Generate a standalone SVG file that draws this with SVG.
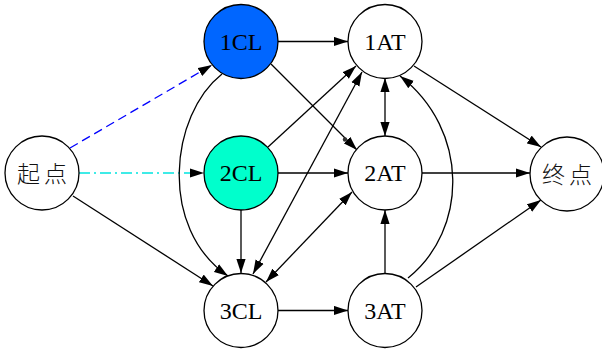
<svg xmlns="http://www.w3.org/2000/svg" width="602" height="354" viewBox="0 0 602 354">
<style>
.node circle{stroke:#000;stroke-width:1.3;fill:#fff}
.lbl{font-family:"Liberation Serif","Times New Roman",serif;font-size:24px;text-anchor:middle;fill:#000}
.cjk{font-family:"Noto Sans CJK SC","Noto Sans CJK JP",sans-serif;font-size:23px;font-weight:300;letter-spacing:4px;fill:#111}
.edges path{fill:none;stroke:#000;stroke-width:1.3}
.e{marker-end:url(#ah)}
.d{marker-end:url(#ah);marker-start:url(#ah)}
</style>
<defs>
<marker id="ah" markerUnits="userSpaceOnUse" markerWidth="14" markerHeight="10" refX="14" refY="5" orient="auto-start-reverse" viewBox="0 0 14 10">
<path d="M0,0.4 L14,5 L0,9.6 z" fill="#000" stroke="none"/>
</marker>
</defs>
<g class="edges" id="edges">
<path class="e" d="M70,148 L212,65" style="stroke:#0000ff;stroke-dasharray:9,5"/>
<path class="e" d="M79,173 L204,173" style="stroke:#00e5e0;stroke-dasharray:11,4,2,4"/>
<path class="e" d="M73,196 L213,286"/>
<path class="e" d="M278,41.5 L348,41.5"/>
<path class="e" d="M271,64 L357,150"/>
<circle cx="345" cy="139.5" r="2.2" fill="#333" stroke="none"/>
<path class="e" d="M222,74 C170,115 158,228 228,276"/>
<path class="e" d="M268,147 L356,66"/>
<path class="d" d="M253,274 L362,72"/>
<path class="d" d="M266,282 L352,192"/>
<path class="e" d="M278,173 L348,173"/>
<path class="e" d="M241,210 L241,273"/>
<path class="d" d="M385,78 L385,136"/>
<path class="e" d="M385,273 L385,210"/>
<path class="e" d="M408,278 C468,230 470,130 400,76"/>
<path class="e" d="M414,66 L541,147"/>
<path class="e" d="M422,173 L530,173"/>
<path class="e" d="M416,287 L541,200"/>
<path class="e" d="M278,310.5 L348,310.5"/>
</g>
<g id="start" class="node"><circle cx="42" cy="173" r="37"/><text class="cjk" x="17" y="181.5">起点</text></g>
<g id="n1CL" class="node"><circle cx="241" cy="41.5" r="37" style="fill:#0066ff"/><text class="lbl" x="241" y="49.5">1CL</text></g>
<g id="n2CL" class="node"><circle cx="241" cy="173" r="37" style="fill:#00ffcc"/><text class="lbl" x="241" y="181">2CL</text></g>
<g id="n3CL" class="node"><circle cx="241" cy="310.5" r="37"/><text class="lbl" x="241" y="318.5">3CL</text></g>
<g id="n1AT" class="node"><circle cx="385" cy="41.5" r="37"/><text class="lbl" x="385" y="49.5">1AT</text></g>
<g id="n2AT" class="node"><circle cx="385" cy="173" r="37"/><text class="lbl" x="385" y="181">2AT</text></g>
<g id="n3AT" class="node"><circle cx="385" cy="310.5" r="37"/><text class="lbl" x="385" y="318.5">3AT</text></g>
<g id="end" class="node"><circle cx="567" cy="174" r="37"/><text class="cjk" x="542" y="182.5">终点</text></g>
</svg>
